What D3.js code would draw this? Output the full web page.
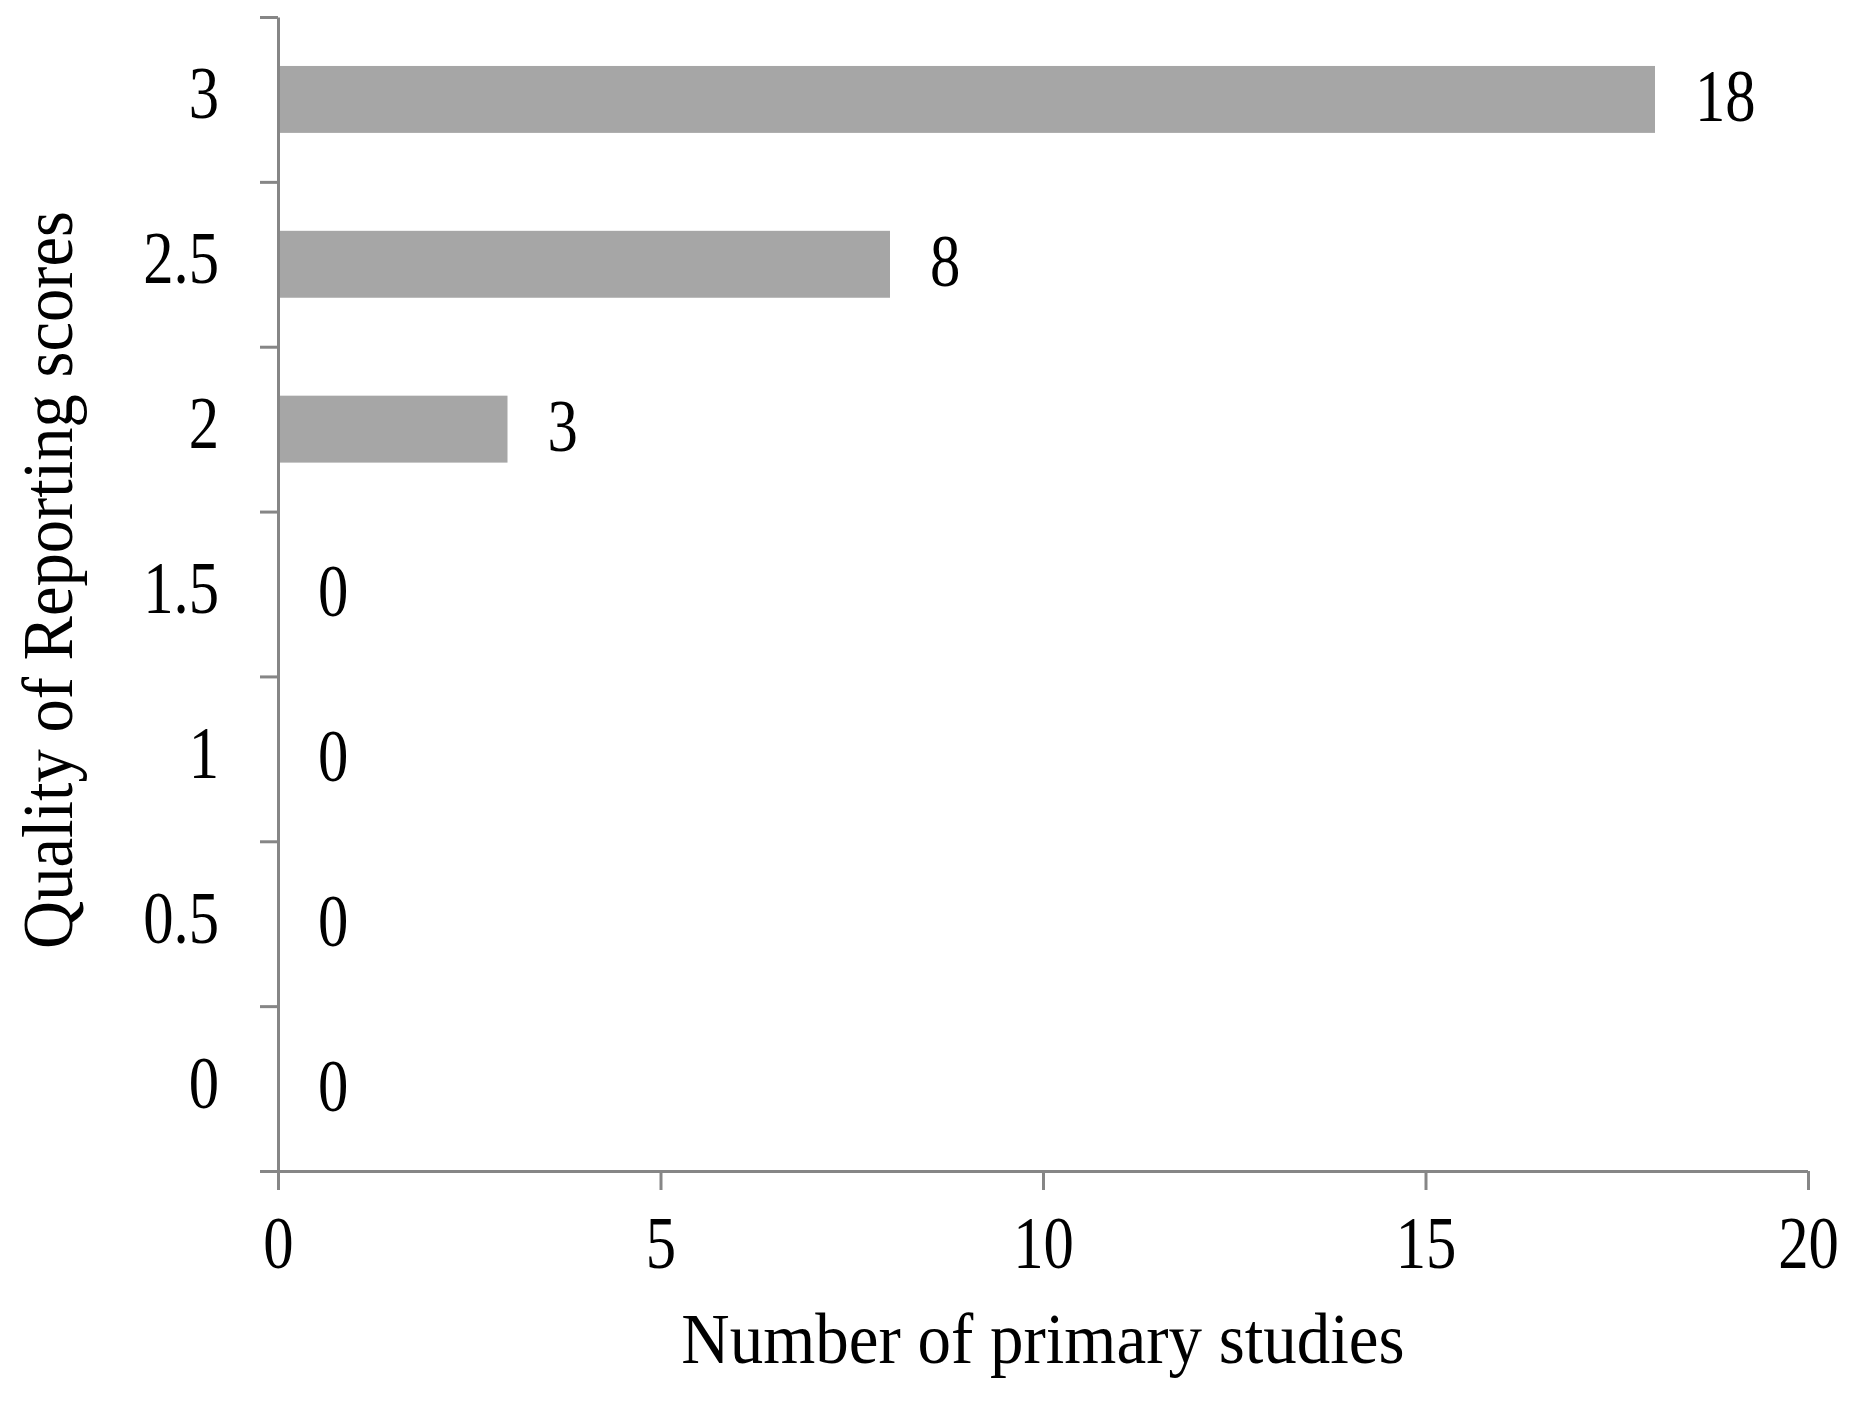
<!DOCTYPE html>
<html>
<head>
<meta charset="utf-8">
<script src="https://cdn.jsdelivr.net/npm/d3@7"></script>
<style>
  body { margin: 0; background: #fff; }
  text { font-family: "Liberation Serif", "Times New Roman", serif; fill: #000; }
</style>
</head>
<body>
<div id="chart"></div>
<script>
// Quality of reporting scores vs number of primary studies
const scores = ["0", "0.5", "1", "1.5", "2", "2.5", "3"];
const counts = [0, 0, 0, 0, 3, 8, 18];
const xTicks = [0, 5, 10, 15, 20];

const svg = d3.select("#chart").append("svg")
    .attr("width", 1859)
    .attr("height", 1401);

const axisColor = "#868686";

const x = d3.scaleLinear()
    .domain([0, 20])
    .range([278, 1808]);

const y = d3.scaleBand()
    .domain(scores)
    .range([1171, 17])
    .paddingInner(0.594)
    .paddingOuter(0.297);

// band edges, used for the category tick marks
const yEdge = d3.scaleLinear()
    .domain([0, scores.length])
    .range([1171, 17]);

// bars
svg.selectAll(".bar")
    .data(scores)
    .join("rect")
    .attr("class", "bar")
    .attr("x", x(0))
    .attr("y", d => y(d))
    .attr("width", (d, i) => x(counts[i]) - x(0))
    .attr("height", y.bandwidth())
    .attr("fill", "#a6a6a6");

// x axis
const gx = svg.append("g")
    .attr("transform", `translate(0,${yEdge(0)})`)
    .call(d3.axisBottom(x).tickValues(xTicks).tickSize(19).tickSizeOuter(0));

gx.selectAll("text")
    .attr("y", null).attr("dy", null)
    .attr("font-size", 74)
    .attr("transform", "translate(0,97) scale(0.82,1)");

// y axis: edge ticks
const gyEdge = svg.append("g")
    .attr("transform", `translate(${x(0)},0)`)
    .call(d3.axisLeft(yEdge).ticks(scores.length).tickFormat("").tickSize(18).tickSizeOuter(0));

// y axis: category labels
const gy = svg.append("g")
    .attr("transform", `translate(${x(0)},0)`)
    .call(d3.axisLeft(y).tickSize(0).tickSizeOuter(0));
gy.select(".domain").remove();
gy.selectAll("text")
    .attr("x", null).attr("dy", null)
    .attr("text-anchor", "end")
    .attr("font-size", 74)
    .attr("transform", "translate(-59,19) scale(0.82,1)");

[gx, gyEdge].forEach(g => {
    g.select(".domain").attr("stroke", axisColor).attr("stroke-width", 3);
    g.selectAll(".tick line").attr("stroke", axisColor).attr("stroke-width", 3);
});
gx.select(".domain").attr("d", `M${x(0) - 18},0.5H${x(20)}`);

// value labels
svg.selectAll(".value")
    .data(scores)
    .join("text")
    .attr("class", "value")
    .attr("font-size", 74)
    .attr("transform", (d, i) => `translate(${x(counts[i]) + 40},${y(d) + y.bandwidth() / 2 + 22}) scale(0.82,1)`)
    .text((d, i) => counts[i]);

// x axis label
svg.append("text")
    .attr("text-anchor", "middle")
    .attr("font-size", 72)
    .attr("transform", `translate(${(x(0) + x(20)) / 2},1363) scale(0.93,1)`)
    .text("Number of primary studies");

// y axis label
svg.append("text")
    .attr("text-anchor", "middle")
    .attr("font-size", 72)
    .attr("transform", "translate(72,580) rotate(-90) scale(0.925,1)")
    .text("Quality of Reporting scores");
</script>
</body>
</html>
